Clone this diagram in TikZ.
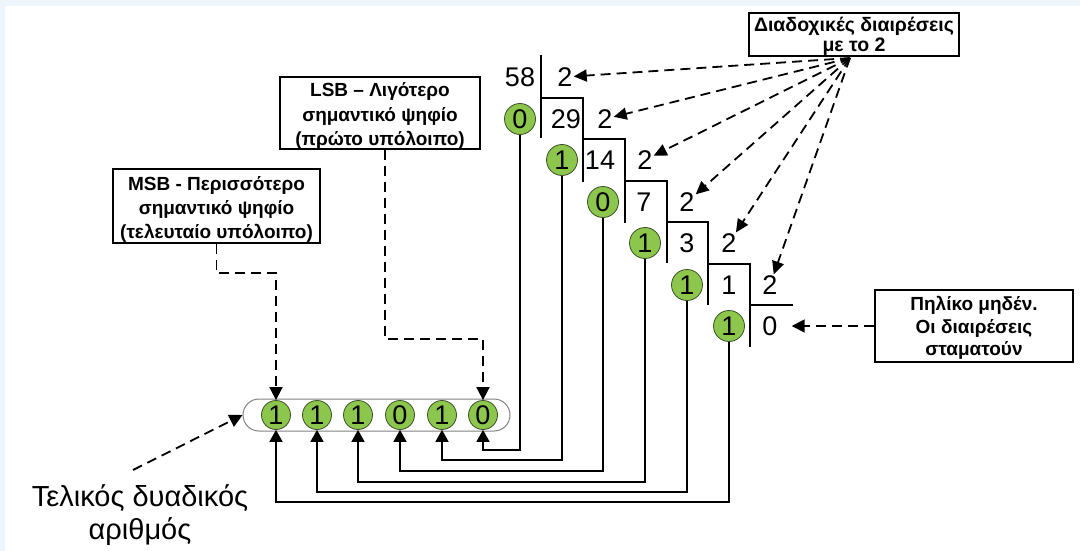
\documentclass[tikz,border=0pt]{standalone}
\usepackage{fontspec}
\setmainfont{Liberation Sans}
\usetikzlibrary{arrows.meta,calc}
\definecolor{bitgreen}{RGB}{141,198,76}
\definecolor{bitedge}{RGB}{60,80,40}
\definecolor{pillgray}{RGB}{130,130,130}
\definecolor{edgeblue}{RGB}{238,246,251}
\begin{document}
\begin{tikzpicture}[x=1pt,y=-1pt,
  num/.style={font=\fontsize{27}{30}\selectfont, inner sep=1pt},
  bit/.style={circle, fill=bitgreen, draw=bitedge, line width=0.8pt, minimum size=31pt, inner sep=0pt, font=\fontsize{27}{30}\selectfont},
  bbit/.style={bit, minimum size=29pt},
  notebox/.style={draw, line width=1.6pt, inner sep=0pt},
  notetext/.style={inner sep=0pt, align=center},
  ladder/.style={line width=1.8pt},
  conn/.style={line width=1.8pt, -{Triangle[length=12pt,width=13pt]}},
  darr/.style={line width=1.8pt, dash pattern=on 10pt off 6pt, -{Triangle[length=13pt,width=13pt]}},
  darrs/.style={line width=1.8pt, dash pattern=on 10pt off 6pt, -{Triangle[length=13pt,width=12pt]}},
]
\useasboundingbox (0,0) rectangle (1080,551);
\fill[white] (0,0) rectangle (1080,551);
\fill[edgeblue] (0,0) rectangle (1080,6);
\fill[edgeblue] (0,0) rectangle (5,551);

% quotients
\node[num] (q0) at (520,77) {58};
\node[num] (q1) at (566,119) {29};
\node[num] (q2) at (600,160) {14};
\node[num] (q3) at (644,202) {7};
\node[num] (q4) at (687,243) {3};
\node[num] (q5) at (729,285) {1};
\node[num] (q6) at (770,326) {0};
% divisors
\node[num] (dv0) at (565,77) {2};
\node[num] (dv1) at (605,119) {2};
\node[num] (dv2) at (645,160) {2};
\node[num] (dv3) at (687,202) {2};
\node[num] (dv4) at (729,243) {2};
\node[num] (dv5) at (770,285) {2};
% remainders
\node[bit] (r1) at (520,119) {0};
\node[bit] (r2) at (562,160) {1};
\node[bit] (r3) at (603,202) {0};
\node[bit] (r4) at (645,243) {1};
\node[bit] (r5) at (687,285) {1};
\node[bit] (r6) at (729,326) {1};

% ladder
\draw[ladder] (541,55) -- (541,138);
\draw[ladder] (541,98) -- (583,98) -- (583,182);
\draw[ladder] (583,139) -- (625,139) -- (625,223);
\draw[ladder] (625,181) -- (667,181) -- (667,263);
\draw[ladder] (667,222) -- (708,222) -- (708,305);
\draw[ladder] (708,264) -- (750,264) -- (750,347);
\draw[ladder] (750,305) -- (793,305);

% result pill
\node[draw=pillgray, line width=1pt, fill=white, rounded corners=16pt, minimum width=267pt, minimum height=32pt, inner sep=0pt] (pill) at (376.5,415) {};
\node[bbit] (b1) at (276,415) {1};
\node[bbit] (b2) at (317,415) {1};
\node[bbit] (b3) at (358,415) {1};
\node[bbit] (b4) at (400,415) {0};
\node[bbit] (b5) at (442,415) {1};
\node[bbit] (b6) at (483,415) {0};

% connectors remainders -> result
\coordinate (h1) at (0,450);
\coordinate (h2) at (0,460);
\coordinate (h3) at (0,471);
\coordinate (h4) at (0,482);
\coordinate (h5) at (0,492);
\coordinate (h6) at (0,502);
\draw[conn] (r1.south) -- (r1.south |- h1) -| (b6.south);
\draw[conn] (r2.south) -- (r2.south |- h2) -| (b5.south);
\draw[conn] (r3.south) -- (r3.south |- h3) -| (b4.south);
\draw[conn] (r4.south) -- (r4.south |- h4) -| (b3.south);
\draw[conn] (r5.south) -- (r5.south |- h5) -| (b2.south);
\draw[conn] (r6.south) -- (r6.south |- h6) -| (b1.south);

% note boxes
\node[notebox, minimum width=210pt, minimum height=43pt] (div) at (854,34.5) {};
\node[notetext, font=\bfseries\fontsize{19.5}{20}\selectfont] (divt) at (854,36) {Διαδοχικές διαιρέσεις\\με το 2};
\node[notebox, minimum width=200pt, minimum height=72pt] (lsb) at (380,113) {};
\node[notetext, font=\bfseries\fontsize{19}{24.5}\selectfont] (lsbt) at (380,116) {LSB – Λιγότερο\\σημαντικό ψηφίο\\(πρώτο υπόλοιπο)};
\node[notebox, minimum width=207pt, minimum height=74pt] (msb) at (216.5,206) {};
\node[notetext, font=\bfseries\fontsize{19}{24}\selectfont] (msbt) at (216.5,209) {MSB - Περισσότερο\\σημαντικό ψηφίο\\(τελευταίο υπόλοιπο)};
\node[notebox, minimum width=198pt, minimum height=72pt] (stop) at (974,326) {};
\node[notetext, font=\bfseries\fontsize{19}{22.5}\selectfont] (stopt) at (974,328) {Πηλίκο μηδέν.\\Οι διαιρέσεις\\σταματούν};
\node[font=\fontsize{29}{33}\selectfont, align=center, inner sep=0pt] (fin) at (140,515) {Τελικός δυαδικός\\αριθμός};

% dashed annotations
\coordinate (src) at (850,58);
\foreach \i in {0,...,5} \draw[darrs] (src) -- (dv\i);
\draw[darr] (stop.west) -- ([xshift=13pt]q6.east);
\coordinate (mt) at (0,273);
\coordinate (lt) at (0,339);
\draw[darr] (msb.south) -- (msb.south |- mt) -| (b1.north);
\draw[darr] ([xshift=5pt]lsb.south) -- ([xshift=5pt]lsb.south |- lt) -| (b6.north);
\coordinate (fs) at (133,470);
\draw[darr] (fs) -- (pill.west);
\end{tikzpicture}
\end{document}
